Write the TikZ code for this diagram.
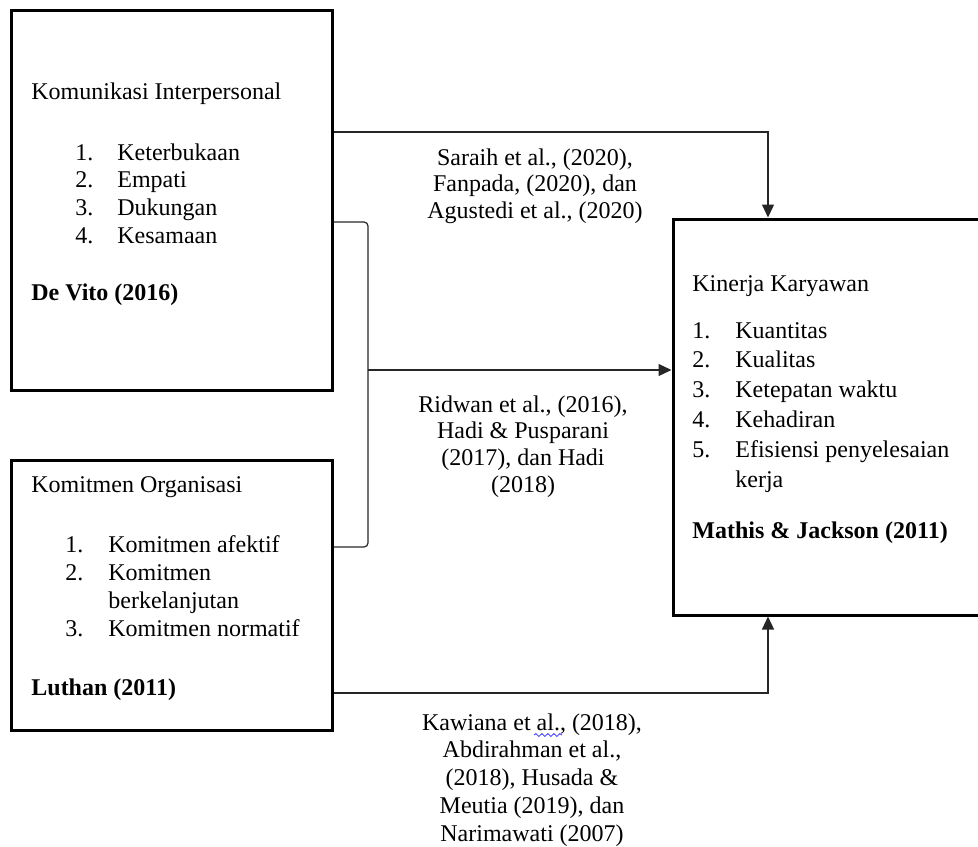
\documentclass[tikz,border=0pt]{standalone}
\usepackage{fontspec}
\setmainfont{Liberation Serif}
\usetikzlibrary{arrows.meta,decorations.pathmorphing}
\newcommand\nm[2][21pt]{\makebox[#1][l]{#2}}
\begin{document}
\begin{tikzpicture}[x=0.5pt,y=-0.5pt,
  box/.style={draw,line width=1.5pt,rectangle,inner sep=0pt,anchor=center},
  txt/.style={anchor=base west,inner sep=0pt,font=\fontsize{12}{14}\selectfont},
  lbl/.style={anchor=base,inner sep=0pt},
  conn/.style={line width=0.6pt,draw=black!85},
  arr/.style={conn,-{Triangle[length=6.5pt,width=6pt]}}]
\useasboundingbox (0,0) rectangle (978,846);
\clip (0,0) rectangle (978,846);
% boxes
\node[box,minimum width=160.5pt,minimum height=190pt] (k1) at (171.5,200) {};
\node[box,minimum width=160.5pt,minimum height=135pt] (k2) at (171.5,595) {};
\node[box,minimum width=156pt,minimum height=198pt] (kk) at (829,417) {};
% box 1 text
\node[txt] (k1t) at (31,99) {Komunikasi Interpersonal};
\node[txt,font=\fontsize{12}{13.85}\selectfont] (k1l) at (75,160) {\begin{tabular}[t]{@{}l@{}}\nm{1.}Keterbukaan\\ \nm{2.}Empati\\ \nm{3.}Dukungan\\ \nm{4.}Kesamaan\end{tabular}};
\node[txt] (k1s) at (31,300) {\textbf{De Vito (2016)}};
% box 2 text
\node[txt] (k2t) at (31,492) {Komitmen Organisasi};
\node[txt,font=\fontsize{12}{14.15}\selectfont] (k2l) at (65,552) {\begin{tabular}[t]{@{}l@{}}\nm[21.5pt]{1.}Komitmen afektif\\ \nm[21.5pt]{2.}Komitmen\\ \nm[21.5pt]{}berkelanjutan\\ \nm[21.5pt]{3.}Komitmen normatif\end{tabular}};
\node[txt] (k2s) at (31,695) {\textbf{Luthan (2011)}};
% box 3 text
\node[txt] (kkt) at (692,291) {Kinerja Karyawan};
\node[txt,font=\fontsize{12}{14.9}\selectfont] (kkl) at (692,338) {\begin{tabular}[t]{@{}l@{}}\nm[21.5pt]{1.}Kuantitas\\ \nm[21.5pt]{2.}Kualitas\\ \nm[21.5pt]{3.}Ketepatan waktu\\ \nm[21.5pt]{4.}Kehadiran\\ \nm[21.5pt]{5.}Efisiensi penyelesaian\\ \nm[21.5pt]{}kerja\end{tabular}};
\node[txt] (kks) at (692,538) {\textbf{Mathis \& Jackson (2011)}};
% connectors
\coordinate (c1) at (768,132);
\draw[arr] (k1.east |- c1) -- (c1) -- (c1 |- kk.north);
\coordinate (b1) at (368,222);
\coordinate (b2) at (368,547);
\coordinate (b3) at (368,370);
\draw[conn,rounded corners=2pt] (k1.east |- b1) -- (b1) -- (b2) -- (k2.east |- b2);
\draw[arr] (b3) -- (kk.west |- b3);
\coordinate (c2) at (768,693);
\draw[arr] (k2.east |- c2) -- (c2) -- (c2 |- kk.south);
% labels
\node[lbl,font=\fontsize{12}{13.25}\selectfont] (l1) at (535,165) {\begin{tabular}[t]{@{}c@{}}Saraih et al., (2020),\\ Fanpada, (2020), dan\\ Agustedi et al., (2020)\end{tabular}};
\node[lbl,font=\fontsize{12}{13.35}\selectfont] (l2) at (523,412) {\begin{tabular}[t]{@{}c@{}}Ridwan et al., (2016),\\ Hadi \& Pusparani\\ (2017), dan Hadi\\ (2018)\end{tabular}};
\node[lbl,font=\fontsize{12}{13.9}\selectfont] (l3) at (532,730) {\begin{tabular}[t]{@{}c@{}}Kawiana et al., (2018),\\ Abdirahman et al.,\\ (2018), Husada \&\\ Meutia (2019), dan\\ Narimawati (2007)\end{tabular}};
\draw[blue!80,line width=0.4pt,decorate,decoration={snake,amplitude=0.7pt,segment length=3pt}] (534,735) -- (562,735);
\end{tikzpicture}
\end{document}
